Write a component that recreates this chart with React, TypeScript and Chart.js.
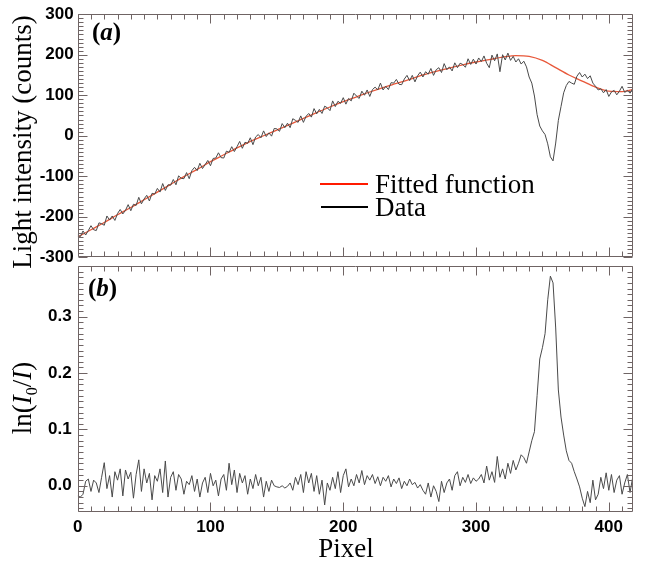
import React, { useEffect, useRef } from "react";
import { Chart, registerables } from "chart.js";

Chart.register(...registerables);

// ---------------- data ----------------
const X_MAX = 418;
const PIXEL_STEP = 2; // data sampled every 2 detector pixels
const X_TICKS = [0, 100, 200, 300, 400];
const TOP_Y_TICKS = [-300, -200, -100, 0, 100, 200, 300];
const BOTTOM_Y_TICKS = [0, 0.1, 0.2, 0.3];

const fitPixels = [0, 10, 20, 30, 40, 50, 60, 70, 80, 90, 100, 110, 120, 130, 140, 150, 160, 170, 180, 190, 200, 210, 220, 230, 240, 250, 260, 270, 280, 290, 300, 310, 320, 330, 340, 350, 360, 370, 380, 390, 400, 410, 418];
const fitCounts = [-250, -232, -214, -195, -177, -158, -139, -120, -101, -83, -64, -47, -30, -14, 0, 14, 28, 43, 57, 71, 84, 96, 108, 119, 129, 139, 150, 159, 167, 175, 182, 188, 194, 198, 196, 186, 168, 150, 135, 120, 110, 109, 114];

const dataCounts = [
  -245, -249, -235, -245, -234, -222, -232, -234, -215, -217,
  -221, -198, -208, -198, -209, -192, -182, -193, -184, -170,
  -185, -169, -172, -152, -168, -156, -147, -161, -142, -144,
  -130, -139, -118, -135, -121, -122, -108, -121, -99, -105,
  -106, -91, -106, -86, -78, -86, -68, -81, -71, -61,
  -74, -56, -55, -42, -54, -55, -38, -41, -27, -39,
  -27, -14, -31, -16, -19, -5, -22, -3, 3, -5,
  12, -2, 7, -1, 18, 17, 11, 30, 20, 31,
  20, 42, 38, 33, 49, 33, 48, 55, 46, 67,
  54, 65, 55, 73, 69, 62, 86, 72, 85, 80,
  94, 78, 92, 86, 105, 98, 92, 110, 100, 113,
  97, 114, 120, 113, 130, 113, 122, 114, 131, 130,
  139, 127, 126, 140, 149, 136, 149, 133, 148, 157,
  145, 158, 152, 166, 149, 163, 168, 156, 178, 163,
  170, 160, 180, 168, 179, 176, 169, 190, 176, 189,
  177, 192, 183, 197, 179, 168, 199, 185, 202, 158,
  200, 187, 204, 186, 196, 182, 190, 177, 184, 170,
  145, 130, 98, 52, 24, 12, 3, -20, -52, -62,
  -18, 38, 72, 106, 124, 134, 130, 127, 147, 156,
  145, 152, 141, 148, 130, 122, 113, 116, 106, 114,
  97, 108, 112, 101, 110, 122, 107, 112, 105, 116,
];

const absorbance = [
  -0.018, -0.02, -0.015, 0.008, 0.012, -0.01, 0.01, 0.005, -0.012, 0.015,
  0.041, -0.005, 0.018, -0.02, 0.025, 0.01, 0.03, -0.018, 0.028, 0.012,
  0.024, -0.022, 0.02, 0.046, -0.01, 0.03, 0.005, 0.022, -0.025, 0.018,
  0.008, 0.03, -0.012, 0.044, -0.02, 0.015, 0.025, -0.008, 0.02, 0.012,
  -0.015, 0.008, 0.002, 0.018, -0.01, 0.012, -0.02, 0.005, 0.015, -0.012,
  0.022, 0.0, 0.01, -0.018, 0.012, 0.02, -0.008, 0.04, 0.002, 0.028,
  -0.012, 0.022, 0.005, 0.018, -0.015, 0.012, -0.005, 0.02, 0.0, 0.015,
  -0.02, 0.008, -0.01, 0.01, 0.0, -0.002, -0.003, 0.0, -0.004, -0.001,
  0.005, -0.008, 0.015, 0.002, 0.02, -0.012, 0.025, 0.005, 0.022, -0.01,
  0.018, -0.015, 0.01, -0.034, 0.005, -0.008, 0.015, -0.005, 0.025, -0.012,
  0.018, 0.03, -0.002, 0.012, 0.0, 0.02, 0.005, 0.027, 0.002, 0.018,
  0.01, 0.02, 0.004, 0.016, 0.0, 0.015, 0.008, 0.018, -0.002, 0.012,
  0.004, 0.014, -0.005, 0.008, 0.0, 0.012, 0.002, 0.006, -0.004, 0.002,
  -0.008, -0.015, 0.005, -0.02, 0.0, -0.01, -0.028, 0.008, -0.012, 0.005,
  0.012, -0.008, 0.018, 0.025, 0.0, 0.015, 0.006, 0.02, 0.004, 0.014,
  0.008, 0.012, 0.02, 0.005, 0.035, 0.01, 0.025, 0.006, 0.052, 0.015,
  0.03, 0.012, 0.04, 0.022, 0.045, 0.028, 0.04, 0.055, 0.05, 0.04,
  0.06, 0.08, 0.096, 0.16, 0.225, 0.245, 0.27, 0.33, 0.372, 0.36,
  0.28, 0.17, 0.122, 0.09, 0.062, 0.045, 0.04, 0.025, 0.012, -0.002,
  -0.022, -0.037, -0.01, -0.03, 0.01, -0.025, -0.015, 0.015, -0.005, 0.023,
  -0.008, 0.02, -0.012, 0.01, 0.018, -0.015, 0.005, 0.02, -0.012, 0.015,
];

// ---------------- styling ----------------
const W = 645;
const H = 563;
const PLOT_LEFT = 77.7;
const PLOT_RIGHT = 632.7;
const TOP_PANEL_TOP = 10;
const TOP_PANEL_BOTTOM = 257.3;
const BOT_PANEL_TOP = 266;
const BOT_PANEL_BOTTOM = 511.7;

const AXIS_COLOR = "#6f6464";
const DATA_COLOR = "#4a4a4a";
const FIT_COLOR = "#e8583a";
const SANS = "'Liberation Sans', Arial, Helvetica, sans-serif";
const SERIF = "'Liberation Serif', 'Times New Roman', serif";
const TICK_FONT = { family: SANS, size: 17, weight: "bold" as const };

type Seg = { t: string; font: string; dy?: number };

function drawRich(ctx: CanvasRenderingContext2D, segs: Seg[], x: number, y: number, rotate: boolean, align: "left" | "center") {
  ctx.save();
  ctx.translate(x, y);
  if (rotate) ctx.rotate(-Math.PI / 2);
  let total = 0;
  for (const s of segs) {
    ctx.font = s.font;
    total += ctx.measureText(s.t).width;
  }
  let cx = align === "center" ? -total / 2 : 0;
  ctx.fillStyle = "#000";
  ctx.textBaseline = "alphabetic";
  ctx.textAlign = "left";
  for (const s of segs) {
    ctx.font = s.font;
    ctx.fillText(s.t, cx, s.dy || 0);
    cx += ctx.measureText(s.t).width;
  }
  ctx.restore();
}

const frameTicks = {
  id: "frameTicks",
  afterDatasetsDraw(chart: any, _args: any, opts: any) {
    const { ctx, chartArea: a } = chart;
    const xs = chart.scales.x;
    const ys = chart.scales.y;
    const L = Math.round(a.left) + 0.5;
    const R = Math.round(a.right) - 0.5;
    const T = Math.round(a.top) + 0.5;
    const B = Math.round(a.bottom) - 0.5;
    ctx.save();
    ctx.strokeStyle = AXIS_COLOR;
    ctx.lineWidth = 1;
    ctx.beginPath();
    ctx.rect(L, T, R - L, B - T);
    for (let v = 0; v <= X_MAX; v += 10) {
      const px = Math.round(xs.getPixelForValue(v)) + 0.5;
      const len = v % 100 === 0 ? 9 : 5;
      ctx.moveTo(px, B);
      ctx.lineTo(px, B - len);
      ctx.moveTo(px, T);
      ctx.lineTo(px, T + len);
    }
    const k0 = Math.ceil(opts.yMin / opts.minor - 1e-9);
    const k1 = Math.floor(opts.yMax / opts.minor + 1e-9);
    for (let k = k0; k <= k1; k++) {
      const py = Math.round(ys.getPixelForValue(k * opts.minor)) + 0.5;
      const len = k % opts.majorEvery === 0 ? 9 : 5;
      ctx.moveTo(L, py);
      ctx.lineTo(L + len, py);
      ctx.moveTo(R, py);
      ctx.lineTo(R - len, py);
    }
    ctx.stroke();
    ctx.restore();
  },
};

const annotations = {
  id: "annotations",
  afterDraw(chart: any, _args: any, opts: any) {
    const ctx = chart.ctx as CanvasRenderingContext2D;
    for (const item of opts.items as any[]) {
      drawRich(ctx, item.segs, item.x, item.y, !!item.rotate, item.align || "left");
    }
    if (opts.legend) {
      ctx.save();
      for (const it of opts.legend as any[]) {
        ctx.strokeStyle = it.color;
        ctx.lineWidth = 2.2;
        ctx.beginPath();
        ctx.moveTo(it.x0, it.y);
        ctx.lineTo(it.x1, it.y);
        ctx.stroke();
        ctx.fillStyle = "#000";
        ctx.font = `27px ${SERIF}`;
        ctx.textBaseline = "alphabetic";
        ctx.textAlign = "left";
        ctx.fillText(it.label, it.x1 + 7, it.y + 9);
      }
      ctx.restore();
    }
  },
};

function pts(ys: number[]) {
  return ys.map((v, i) => ({ x: i * PIXEL_STEP, y: v }));
}

export default function App() {
  const topRef = useRef<HTMLCanvasElement | null>(null);
  const botRef = useRef<HTMLCanvasElement | null>(null);

  useEffect(() => {
    const common = {
      animation: false as const,
      responsive: false,
      maintainAspectRatio: false,
      events: [] as any[],
    };

    const top = new Chart(topRef.current as HTMLCanvasElement, {
      type: "line",
      data: {
        datasets: [
          {
            label: "Data",
            data: pts(dataCounts),
            borderColor: DATA_COLOR,
            borderWidth: 1,
            pointRadius: 0,
            tension: 0,
          },
          {
            label: "Fitted function",
            data: fitPixels.map((p, i) => ({ x: p, y: fitCounts[i] })),
            borderColor: FIT_COLOR,
            borderWidth: 1.3,
            pointRadius: 0,
            cubicInterpolationMode: "monotone",
          },
        ],
      },
      options: {
        ...common,
        layout: { padding: { left: 0, right: W - PLOT_RIGHT, top: TOP_PANEL_TOP, bottom: H - TOP_PANEL_BOTTOM } },
        plugins: {
          legend: { display: false },
          tooltip: { enabled: false },
          frameTicks: { yMin: -300, yMax: 300, minor: 10, majorEvery: 10 },
          annotations: {
            items: [
              {
                segs: [
                  { t: "(", font: `bold 25px ${SERIF}` },
                  { t: "a", font: `italic bold 25px ${SERIF}` },
                  { t: ")", font: `bold 25px ${SERIF}` },
                ],
                x: 92,
                y: 40,
              },
              {
                segs: [{ t: "Light intensity (counts)", font: `27px ${SERIF}` }],
                x: 31,
                y: 142,
                rotate: true,
                align: "center",
              },
            ],
            legend: [
              { label: "Fitted function", color: "#ff1a00", x0: 320, x1: 368, y: 184 },
              { label: "Data", color: "#000000", x0: 321, x1: 368, y: 207 },
            ],
          },
        } as any,
        scales: {
          x: { type: "linear", min: 0, max: X_MAX, display: false },
          y: {
            type: "linear",
            min: -300,
            max: 300,
            afterFit: (s: any) => {
              s.width = PLOT_LEFT;
            },
            afterBuildTicks: (s: any) => {
              s.ticks = TOP_Y_TICKS.map((v) => ({ value: v }));
            },
            grid: { display: false, drawTicks: false },
            border: { display: false },
            ticks: { color: "#000", font: TICK_FONT, padding: 4, callback: (v: any) => String(v) },
          },
        },
      },
      plugins: [frameTicks, annotations],
    });

    const bot = new Chart(botRef.current as HTMLCanvasElement, {
      type: "line",
      data: {
        datasets: [
          {
            label: "ln(I0/I)",
            data: pts(absorbance),
            borderColor: DATA_COLOR,
            borderWidth: 1,
            pointRadius: 0,
            tension: 0,
          },
        ],
      },
      options: {
        ...common,
        layout: { padding: { left: 0, right: W - PLOT_RIGHT, top: BOT_PANEL_TOP, bottom: 0 } },
        plugins: {
          legend: { display: false },
          tooltip: { enabled: false },
          frameTicks: { yMin: -0.046, yMax: 0.39, minor: 0.01, majorEvery: 10 },
          annotations: {
            items: [
              {
                segs: [
                  { t: "(", font: `bold 25px ${SERIF}` },
                  { t: "b", font: `italic bold 25px ${SERIF}` },
                  { t: ")", font: `bold 25px ${SERIF}` },
                ],
                x: 88,
                y: 296,
              },
              {
                segs: [
                  { t: "ln(", font: `27px ${SERIF}` },
                  { t: "I", font: `italic 27px ${SERIF}` },
                  { t: "0", font: `16px ${SERIF}`, dy: 6 },
                  { t: "/", font: `27px ${SERIF}` },
                  { t: "I", font: `italic 27px ${SERIF}` },
                  { t: ")", font: `27px ${SERIF}` },
                ],
                x: 31,
                y: 398,
                rotate: true,
                align: "center",
              },
              {
                segs: [{ t: "Pixel", font: `27px ${SERIF}` }],
                x: 346,
                y: 557,
                align: "center",
              },
            ],
          },
        } as any,
        scales: {
          x: {
            type: "linear",
            min: 0,
            max: X_MAX,
            afterFit: (s: any) => {
              s.height = H - BOT_PANEL_BOTTOM;
            },
            afterBuildTicks: (s: any) => {
              s.ticks = X_TICKS.map((v) => ({ value: v }));
            },
            grid: { display: false, drawTicks: false },
            border: { display: false },
            ticks: { color: "#000", font: TICK_FONT, padding: 5, maxRotation: 0, callback: (v: any) => String(v) },
          },
          y: {
            type: "linear",
            min: -0.046,
            max: 0.39,
            afterFit: (s: any) => {
              s.width = PLOT_LEFT;
            },
            afterBuildTicks: (s: any) => {
              s.ticks = BOTTOM_Y_TICKS.map((v) => ({ value: v }));
            },
            grid: { display: false, drawTicks: false },
            border: { display: false },
            ticks: { color: "#000", font: TICK_FONT, padding: 6, callback: (v: any) => Number(v).toFixed(1) },
          },
        },
      },
      plugins: [frameTicks, annotations],
    });

    return () => {
      top.destroy();
      bot.destroy();
    };
  }, []);

  return (
    <div style={{ position: "fixed", left: 0, top: 0, width: W, height: H, background: "#fff" }}>
      <canvas ref={topRef} width={W} height={H} style={{ position: "absolute", left: 0, top: 0, width: W, height: H }} />
      <canvas ref={botRef} width={W} height={H} style={{ position: "absolute", left: 0, top: 0, width: W, height: H }} />
    </div>
  );
}
